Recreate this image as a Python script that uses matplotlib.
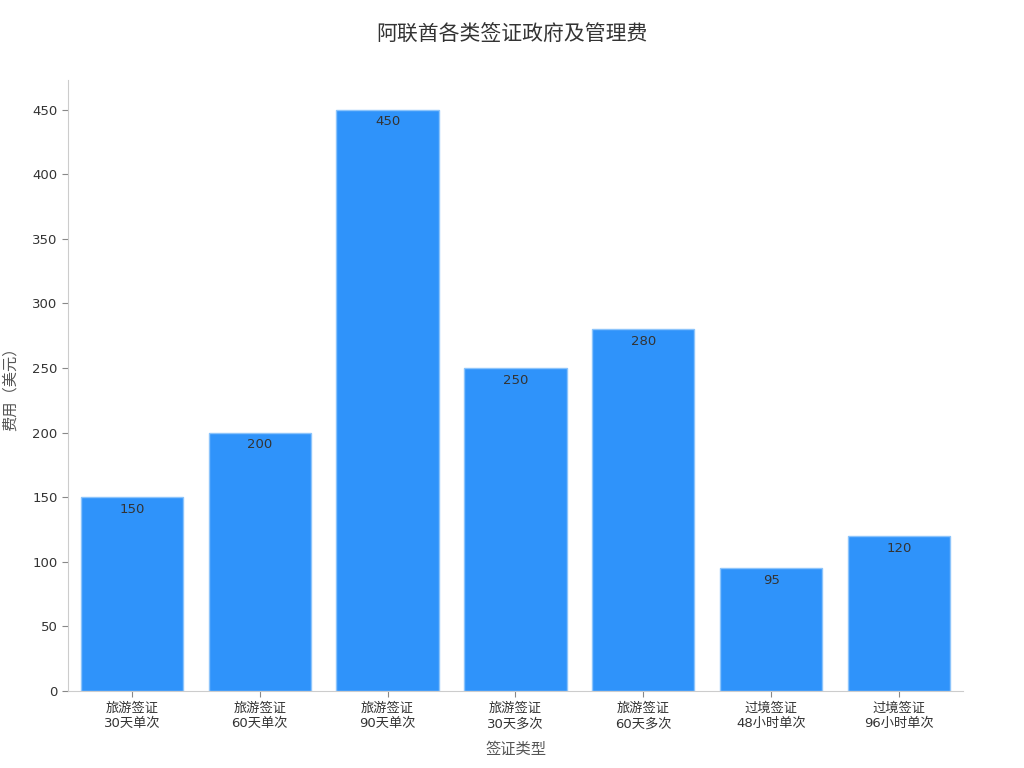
import matplotlib.pyplot as plt

plt.rcParams['font.family'] = ['DejaVu Sans', 'Noto Sans CJK SC']
plt.rcParams['axes.unicode_minus'] = False

# 数据
visa_types = ['旅游签证\n30天单次', '旅游签证\n60天单次', '旅游签证\n90天单次',
              '旅游签证\n30天多次', '旅游签证\n60天多次', '过境签证\n48小时单次',
              '过境签证\n96小时单次']
fees = [150, 200, 450, 250, 280, 95, 120]

text_color = '#333333'
spine_color = '#cccccc'

fig = plt.figure(figsize=(10.24, 7.68), dpi=100)
ax = fig.add_axes([0.0664, 0.1003, 0.8740, 0.7957])

x = range(len(visa_types))
bars = ax.bar(x, fees, width=0.8, color='#2f93fa', edgecolor='#8cc4fb', linewidth=1)

for xi, v in zip(x, fees):
    ax.text(xi, v - 4.5, str(v), ha='center', va='top', fontsize=9.5, color='#333333')

ax.set_xlim(-0.5, len(visa_types) - 0.5)
ax.set_ylim(0, 473)
ax.set_xticks(list(x))
ax.set_xticklabels(visa_types, fontsize=9.5, color=text_color, linespacing=1.3)
ax.set_yticks(range(0, 451, 50))
ax.tick_params(axis='y', labelsize=9.5, colors=text_color)
ax.tick_params(axis='both', color='#888888', length=4)

for s in ['top', 'right']:
    ax.spines[s].set_visible(False)
for s in ['left', 'bottom']:
    ax.spines[s].set_color(spine_color)

ax.set_xlabel('签证类型', fontsize=11, color='#555555', labelpad=8)
ax.set_ylabel('费用（美元）', fontsize=11, color='#555555', labelpad=10)
fig.suptitle('阿联酋各类签证政府及管理费', fontsize=15, color=text_color, y=0.968)

fig.savefig('out.png', dpi=100)
